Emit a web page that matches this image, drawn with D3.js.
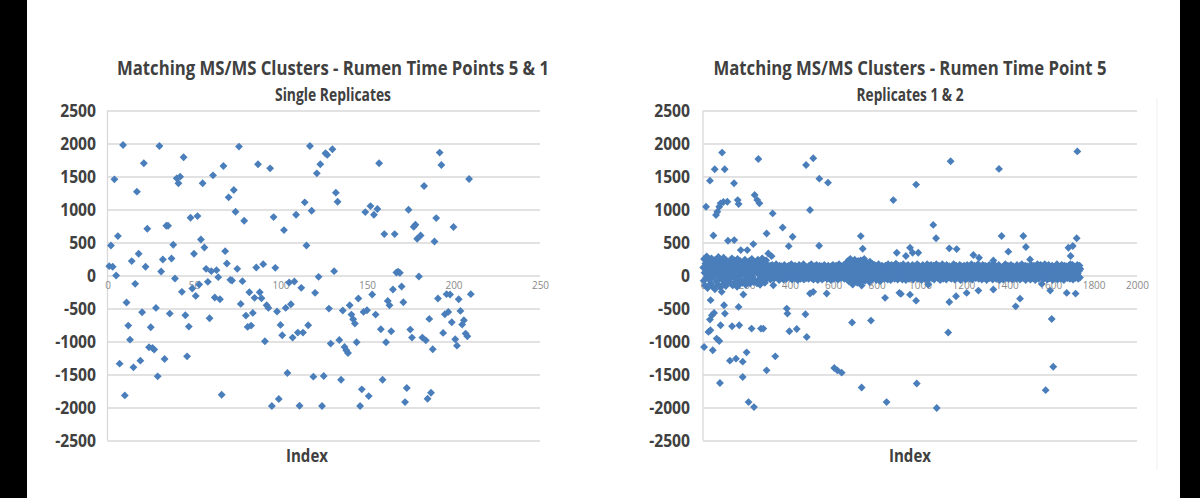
<!DOCTYPE html>
<html>
<head>
<meta charset="utf-8">
<script src="https://cdn.jsdelivr.net/npm/d3@7"></script>
<style>
html, body { margin: 0; padding: 0; background: #000; }
#viz { width: 1200px; height: 498px; }
text { font-family: "Open Sans", "DejaVu Sans", sans-serif; }
</style>
</head>
<body>
<div id="viz"></div>
<script>
// eixos - axes
var yTicks = [-2500, -2000, -1500, -1000, -500, 0, 500, 1000, 1500, 2000, 2500];
var leftXTicks = [0, 50, 100, 150, 200, 250];
var rightXTicks = [0, 200, 400, 600, 800, 1000, 1200, 1400, 1600, 1800, 2000];

var leftTitle = 'Matching MS/MS Clusters - Rumen Time Points 5 & 1';
var leftSubtitle = 'Single Replicates';
var rightTitle = 'Matching MS/MS Clusters - Rumen Time Point 5';
var rightSubtitle = 'Replicates 1 & 2';
var xLabel = 'Index';

// single replicates: [index, value]
var leftPoints = [
  [1,142],[2,455],[3,132],[4,1457],[5,0],[6,597],[7,-1336],[9,1978],[10,-1817],[11,-410],
  [12,-759],[13,-972],[14,218],[15,-1392],[16,-126],[17,1270],[18,329],[19,-1290],[20,-557],[21,1700],
  [22,132],[23,708],[24,-1088],[25,-784],[26,-1098],[27,-1123],[28,-491],[29,-1528],[30,1963],[31,61],
  [32,243],[33,-1265],[34,754],[35,754],[36,-577],[37,258],[38,465],[39,-46],[40,1472],[41,1397],
  [42,1498],[43,-248],[44,1791],[45,-602],[46,-1225],[47,-774],[48,875],[49,-197],[50,329],[51,-309],
  [52,900],[53,-137],[54,546],[55,1397],[56,425],[57,101],[58,-96],[59,-648],[60,66],[61,1518],
  [62,-334],[63,81],[64,-25],[65,-359],[66,-1806],[67,1660],[68,369],[69,182],[70,1184],[71,-66],
  [72,-76],[73,1295],[74,966],[75,101],[76,1953],[77,-430],[78,-86],[79,830],[80,-607],[81,-779],
  [82,-253],[83,-759],[84,-567],[85,-339],[86,121],[87,1685],[88,-253],[89,-344],[90,172],[91,-997],
  [92,-450],[93,-491],[94,1624],[95,-1978],[96,885],[97,116],[98,-546],[99,-1872],[100,-749],[101,-906],
  [102,688],[103,-491],[104,-1477],[105,-106],[106,-435],[107,-941],[108,-91],[109,921],[110,-865],[111,-1973],
  [112,-187],[113,-865],[114,1108],[115,455],[116,-754],[117,1963],[118,982],[119,-1533],[120,-263],[121,1548],
  [122,-20],[123,1685],[124,-1978],[125,-1523],[126,1852],[127,1827],[128,-501],[129,-1032],[130,1913],[131,66],
  [132,1255],[133,1118],[134,-977],[135,-1579],[136,-531],[137,-1083],[138,-1133],[139,-1174],[140,-450],[141,-592],
  [142,-663],[143,-729],[144,-1012],[145,-349],[146,-1978],[147,-1725],[148,-552],[149,961],[150,-526],[151,-1827],
  [152,1052],[153,-288],[154,921],[155,-592],[156,1007],[157,1700],[158,-814],[159,-1579],[160,627],[161,-1012],
  [162,-385],[163,-450],[164,-845],[165,-212],[166,627],[167,46],[168,56],[169,40],[170,-167],[171,-405],
  [172,-1918],[173,-1705],[174,997],[175,-820],[176,-941],[177,739],[178,769],[179,556],[180,-15],[181,607],
  [182,-941],[183,1356],[184,-982],[185,-1867],[186,-658],[187,-1776],[188,-1118],[189,516],[190,870],[191,-349],
  [192,1862],[193,1675],[194,-870],[195,-587],[196,-283],[197,-552],[198,-288],[199,-708],[200,734],[201,-966],
  [202,-1063],[203,-359],[204,-536],[205,-744],[206,-678],[207,-880],[208,-921],[209,1462],[210,-283]
];

// replicates 1 & 2 - dense band near zero, one value every 2nd index (1, 3, 5 ...)
var rightBand = [
  120,-80,250,40,-150,180,60,-30,290,90,-190,140,10,220,-60,80,170,-120,30,260,-40,110,-170,200,70,-10,150,-210,240,50,
  -90,190,20,130,-140,280,60,-50,210,100,-180,160,0,240,-70,90,-130,270,40,180,-20,120,-160,230,80,-100,200,30,150,-40,
  210,-60,100,170,-120,50,260,10,-150,140,80,-30,230,60,-100,190,20,120,-170,250,40,-50,160,90,-130,220,0,130,-80,180,
  70,-110,200,30,150,-60,240,90,-140,120,10,190,-90,60,170,-30,220,100,-120,40,160,-70,250,80,-20,140,-100,210,50,110,
  -80,200,60,150,-120,90,240,20,-60,170,110,-140,30,190,70,-40,260,120,-90,50,180,0,-110,140,80,230,-50,100,160,10,
  60,-30,120,20,150,-60,90,40,-10,160,70,0,110,-50,140,30,80,-20,170,50,100,-40,130,10,90,-70,150,60,-20,110,
  40,140,-30,80,120,-60,20,160,70,-10,100,50,-50,130,30,90,-20,150,60,0,120,-40,80,170,10,-60,110,40,140,-10,
  90,-40,150,20,70,-20,130,60,-70,110,30,160,0,80,-50,120,50,-30,140,10,90,170,-60,60,100,-10,40,130,-40,70,
  120,0,60,-50,150,30,90,-20,110,170,-40,50,130,10,-60,80,140,20,-30,100,60,160,-10,40,-70,120,90,0,150,30,
  -20,100,50,140,-60,80,10,120,-40,160,70,20,-10,130,90,-50,110,40,150,0,70,-30,120,60,-70,140,30,90,-20,160,
  50,-50,130,20,100,-30,150,70,0,110,-60,90,40,170,-20,60,120,10,-40,140,80,30,-10,100,160,-50,60,130,20,-30,
  90,200,-60,140,30,230,-90,120,60,250,-20,180,80,-100,210,40,160,-70,110,240,0,150,-40,190,70,-110,130,220,20,100,
  170,-60,80,230,30,-90,150,60,200,-30,110,250,10,-80,140,90,190,-50,40,120,-20,160,70,-100,210,30,130,-40,90,180,
  40,-50,130,70,10,160,-30,100,50,-70,140,20,90,-10,170,60,-40,120,30,110,-60,80,150,0,60,-20,130,90,-50,100,
  150,30,-40,100,60,-60,170,20,80,-10,130,50,-70,110,160,0,70,-30,140,40,90,-50,120,10,180,-20,60,100,-60,150,
  10,110,-40,70,150,30,-20,90,130,-60,50,170,0,80,-30,120,60,-70,140,20,100,-10,160,40,-50,90,130,10,-40,110,
  70,-20,160,40,-60,100,20,140,-30,80,120,-10,50,170,-50,90,30,150,-40,60,110,0,130,-70,80,40,160,-20,100,60,
  -30,130,60,-60,110,20,170,-10,90,50,-50,140,30,100,-20,160,70,-40,120,0,80,150,-60,40,110,-30,90,170,10,60,
  120,-40,80,150,0,60,-70,130,40,100,-20,170,20,-50,90,140,60,-10,110,30,-60,160,50,80,-30,120,0,140,70,-40,
  90,20,-50,140,60,110,-30,170,0,80,-60,120,40,150,-10,70,100,-40,130,30,-20,160,60,-70,90,140,10,-30,110,50,
  40,150,-20,90,-60,130,20,70,160,-40,100,0,140,60,-50,120,30,-10,170,80,-60,110,40,90,-30,150,10,130,-40,70,
  130,-30,60,170,10,-50,100,40,140,-20,80,120,-60,50,160,0,90,-40,110,30,150,-10,70,-70,130,60,100,-30,40,160,
  -40,110,70,-10,150,30,90,-60,130,50,170,-20,80,10,140,-50,100,60,-30,120,0,160,40,-70,90,130,20,-40,110,70,
  60,-60,140,20,100,-20,170,50,-40,120,80,0,150,-50,90,30,130,-10,70,160,-30,110,40,-60,140,10,80,-20,120,50,
  100,30,-50,160,60,-20,120,0,90,140,-60,40,110,-30,170,70,10,-40,130,50,100,-10,150,-70,80,20,140,60,-40,90,
  -20,140,50,100,-60,80,160,10,-40,120,70,-10,150,30,90,-70,130,40,110,-30,170,0,60,-50,120,90,20,160,-20,80,
  150,10,-30,90,130,-50,60,170,20,-20,110,40,140,-60,80,0,160,50,-40,100,30,120,-10,70,150,-70,90,40,130,-30,
  60,120,-40,80,20,170,-60,100,50,140,-20,90,0,130,-50,70,160,30,-30,110,60,-70,150,10,100,-10,140,40,80,-40,
  110,-30,150,20,90,-50,170,40,120,-10,80,160,-60,60,140,0,100,-40,130,50,90,-20,160,30,-50,120,70,150,-30,100
];

// replicates 1 & 2 - points away from the band: [index, value]
var rightOutliers = [
  [5,-1083],[14,1042],[25,-855],[32,1437],[32,-668],[34,-830],[35,-374],[41,-602],[45,-1133],[48,607],
  [51,-567],[54,1609],[60,916],[63,-956],[66,966],[75,1042],[75,-992],[78,-1629],[81,1093],[81,-754],
  [86,-248],[88,1862],[94,1113],[97,-450],[100,1609],[101,-577],[112,1118],[115,526],[124,-1290],[134,-769],
  [143,1397],[144,536],[152,-1260],[160,1143],[164,1083],[164,-476],[167,-754],[174,385],[183,-1305],[183,-1538],
  [186,-288],[201,-1164],[204,385],[210,-1918],[224,-804],[232,476],[235,-1994],[238,1219],[250,1143],[255,1766],
  [260,1093],[267,-804],[278,-804],[293,637],[293,-1437],[301,334],[316,293],[321,941],[324,-147],[333,-1225],
  [367,728],[386,-501],[389,-577],[395,445],[398,-845],[413,587],[432,-810],[472,-587],[475,1675],[478,-931],
  [493,992],[493,-273],[508,1776],[508,-248],[535,450],[536,1467],[570,-273],[576,1407],[605,-1401],[619,-1437],
  [639,-1472],[687,-713],[690,-137],[727,597],[731,-1697],[731,-152],[736,405],[774,-683],[816,-86],[839,-339],
  [846,-1918],[877,1143],[893,344],[905,-263],[912,-279],[935,295],[954,421],[954,-290],[966,345],[982,1377],
  [982,-381],[985,-1636],[992,345],[1038,-137],[1061,767],[1074,564],[1077,-2007],[1130,-864],[1135,411],[1135,-401],
  [1141,1732],[1166,-315],[1169,400],[1215,-264],[1246,310],[1269,-229],[1272,269],[1338,228],[1338,-213],[1364,1615],
  [1376,599],[1407,361],[1441,-467],[1461,-351],[1476,599],[1488,432],[1507,243],[1561,-127],[1579,-1737],[1600,-229],
  [1607,-660],[1614,-1382],[1676,-264],[1684,421],[1694,295],[1704,447],[1717,-274],[1722,564],[1725,1880]
];

var blue = '#4a7ebb';
var gridColor = '#d9d9d9';
var textColor = '#404040';

var svg = d3.select('#viz')
  .append('svg')
  .attr('width', 1200)
  .attr('height', 498)
  ;

// painel branco - white panel
svg.append('rect')
  .attr('x', 27)
  .attr('y', 0)
  .attr('width', 1153)
  .attr('height', 498)
  .attr('fill', '#fff')
  ;

// moldura fraca do 2o grafico - faint frame of the 2nd chart
svg.append('line')
  .attr('x1', 1157).attr('x2', 1157)
  .attr('y1', 98).attr('y2', 470)
  .attr('stroke', '#f0f0f0')
  .attr('stroke-width', 1)
  ;

// losango quadrado do excel - excel's square diamond marker
var diamond = {
  draw: function(ctx, size) {
    var r = Math.sqrt(size / 2);
    ctx.moveTo(0, -r);
    ctx.lineTo(r, 0);
    ctx.lineTo(0, r);
    ctx.lineTo(-r, 0);
    ctx.closePath();
  }
};
var marker = d3.symbol().type(diamond).size(31);

var y = d3.scaleLinear().domain([-2500, 2500]).range([440.5, 110.5]);

function plain(d) { return String(d); }

function drawChart(cfg) {
  var g = svg.append('g');
  var x = d3.scaleLinear().domain(cfg.xDomain).range(cfg.xRange);

  // titulos - titles
  g.append('text')
    .text(cfg.title)
    .attr('x', cfg.titleX)
    .attr('y', 75)
    .attr('text-anchor', 'middle')
    .attr('font-size', '20px')
    .attr('font-weight', 'bold')
    .attr('fill', textColor)
    .attr('textLength', cfg.titleW)
    .attr('lengthAdjust', 'spacingAndGlyphs')
    ;
  g.append('text')
    .text(cfg.subtitle)
    .attr('x', cfg.titleX)
    .attr('y', 100.5)
    .attr('text-anchor', 'middle')
    .attr('font-size', '17px')
    .attr('font-weight', 'bold')
    .attr('fill', textColor)
    .attr('textLength', cfg.subW)
    .attr('lengthAdjust', 'spacingAndGlyphs')
    ;

  // grade - gridlines
  var yAxis = d3.axisLeft(y)
    .tickValues(yTicks)
    .tickSize(-(cfg.xRange[1] - cfg.xRange[0]))
    .tickFormat(plain)
    .tickPadding(cfg.xRange[0] - cfg.yLabelRight);
  var ga = g.append('g')
    .attr('transform', 'translate(' + cfg.xRange[0] + ',0)')
    .call(yAxis)
    ;
  ga.select('.domain').remove();
  ga.selectAll('.tick line')
    .attr('stroke', gridColor)
    .attr('stroke-width', 1.3)
    ;
  ga.selectAll('.tick text')
    .attr('fill', textColor)
    .attr('font-size', '18px')
    .attr('font-weight', 'bold')
    .attr('dy', '0.36em')
    .each(function() {
      var w = this.getComputedTextLength();
      d3.select(this).attr('textLength', w * 0.87).attr('lengthAdjust', 'spacingAndGlyphs');
    })
    ;

  // eixo vertical - vertical axis line
  g.append('line')
    .attr('x1', cfg.xRange[0]).attr('x2', cfg.xRange[0])
    .attr('y1', y(2500)).attr('y2', y(-2500))
    .attr('stroke', gridColor)
    .attr('stroke-width', 1.3)
    ;

  // rotulos do eixo x no zero - x tick labels at zero line
  var xAxis = d3.axisBottom(x)
    .tickValues(cfg.xTicks)
    .tickSize(0)
    .tickFormat(plain)
    .tickPadding(10);
  var gx = g.append('g')
    .attr('transform', 'translate(0,' + y(0) + ')')
    .call(xAxis)
    ;
  gx.select('.domain').remove();
  gx.selectAll('.tick text')
    .attr('fill', '#8a8a8a')
    .attr('font-size', '10px')
    .attr('font-family', '"Open Sans", sans-serif')
    .attr('y', 6)
    ;

  g.append('text')
    .text(xLabel)
    .attr('x', cfg.indexX)
    .attr('y', 461.5)
    .attr('text-anchor', 'middle')
    .attr('font-size', '18px')
    .attr('font-weight', 'bold')
    .attr('fill', textColor)
    .attr('textLength', 42)
    .attr('lengthAdjust', 'spacingAndGlyphs')
    ;

  g.append('g')
    .selectAll('path')
    .data(cfg.points)
    .enter()
    .append('path')
    .attr('d', marker)
    .attr('fill', blue)
    .attr('transform', function(d) { return 'translate(' + x(d[0]) + ',' + y(d[1]) + ')'; })
    ;
}

drawChart({
  title: leftTitle, subtitle: leftSubtitle,
  titleX: 333, titleW: 432, subW: 116, indexX: 307,
  xDomain: [0, 250], xRange: [107.5, 540], xTicks: leftXTicks,
  yLabelRight: 96,
  points: leftPoints
});

var rightPoints = rightBand.map(function(v, i) { return [i * 2 + 1, v]; }).concat(rightOutliers);

drawChart({
  title: rightTitle, subtitle: rightSubtitle,
  titleX: 910, titleW: 393, subW: 107, indexX: 910,
  xDomain: [0, 2000], xRange: [703, 1137], xTicks: rightXTicks,
  yLabelRight: 690,
  points: rightPoints
});
</script>
</body>
</html>
